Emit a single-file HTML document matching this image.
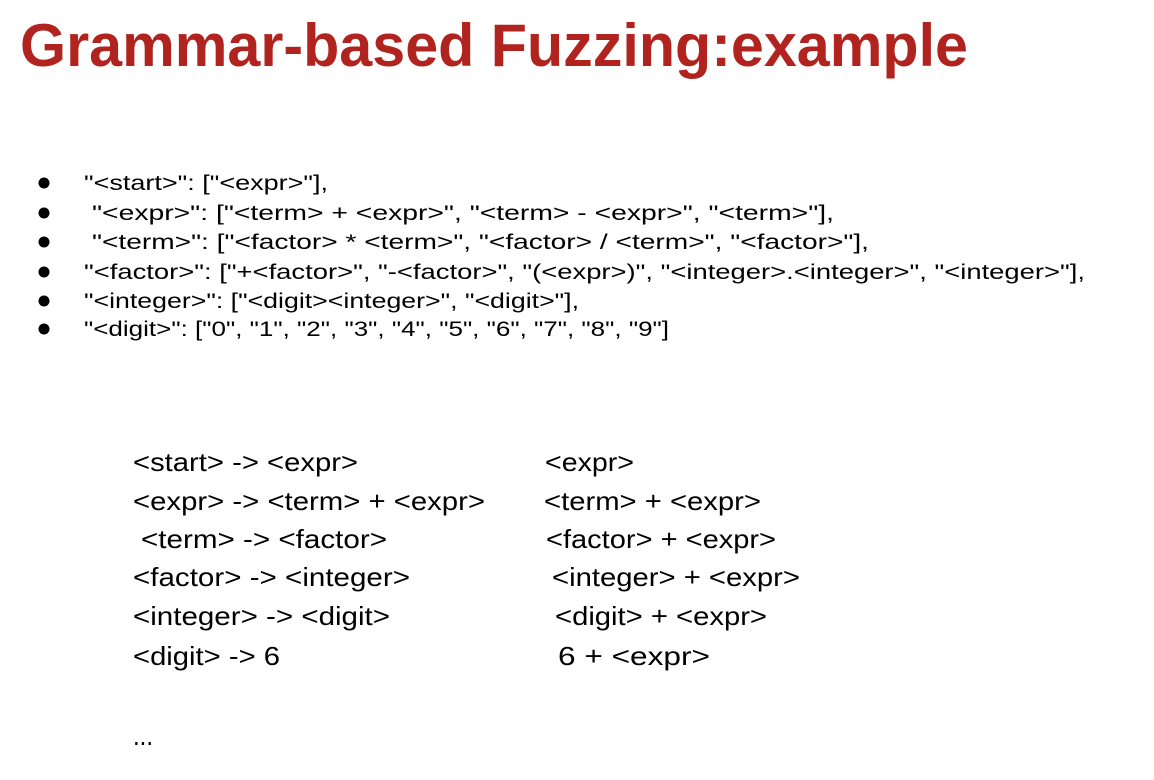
<!DOCTYPE html>
<html><head><meta charset="utf-8"><style>
html,body{margin:0;padding:0;background:#fff;}
svg{display:block;}
</style></head><body>
<svg width="1154" height="780" xmlns="http://www.w3.org/2000/svg">
<text x="20" y="66" font-family="Liberation Sans, sans-serif" font-weight="bold" font-size="60" fill="#b0231f" textLength="948" lengthAdjust="spacingAndGlyphs">Grammar-based Fuzzing:example</text>
<g font-family="Liberation Sans, sans-serif" font-size="21" fill="#000">
<circle cx="44" cy="183" r="5.5"/><circle cx="44" cy="213" r="5.5"/><circle cx="44" cy="242" r="5.5"/>
<circle cx="44" cy="272" r="5.5"/><circle cx="44" cy="301" r="5.5"/><circle cx="44" cy="329" r="5.5"/>
<text x="84" y="190" textLength="244" lengthAdjust="spacingAndGlyphs">"&lt;start&gt;": ["&lt;expr&gt;"],</text>
<text x="92" y="220" textLength="742" lengthAdjust="spacingAndGlyphs">"&lt;expr&gt;": ["&lt;term&gt; + &lt;expr&gt;", "&lt;term&gt; - &lt;expr&gt;", "&lt;term&gt;"],</text>
<text x="92" y="249" textLength="777" lengthAdjust="spacingAndGlyphs">"&lt;term&gt;": ["&lt;factor&gt; * &lt;term&gt;", "&lt;factor&gt; / &lt;term&gt;", "&lt;factor&gt;"],</text>
<text x="84" y="279" textLength="1001" lengthAdjust="spacingAndGlyphs">"&lt;factor&gt;": ["+&lt;factor&gt;", "-&lt;factor&gt;", "(&lt;expr&gt;)", "&lt;integer&gt;.&lt;integer&gt;", "&lt;integer&gt;"],</text>
<text x="84" y="308" textLength="495" lengthAdjust="spacingAndGlyphs">"&lt;integer&gt;": ["&lt;digit&gt;&lt;integer&gt;", "&lt;digit&gt;"],</text>
<text x="84" y="336" textLength="585" lengthAdjust="spacingAndGlyphs">"&lt;digit&gt;": ["0", "1", "2", "3", "4", "5", "6", "7", "8", "9"]</text>
</g>
<g font-family="Liberation Sans, sans-serif" font-size="26" fill="#000">
<text x="133" y="471" textLength="225" lengthAdjust="spacingAndGlyphs">&lt;start&gt; -&gt; &lt;expr&gt;</text>
<text x="133" y="510" textLength="352" lengthAdjust="spacingAndGlyphs">&lt;expr&gt; -&gt; &lt;term&gt; + &lt;expr&gt;</text>
<text x="141" y="548" textLength="246" lengthAdjust="spacingAndGlyphs">&lt;term&gt; -&gt; &lt;factor&gt;</text>
<text x="133" y="586" textLength="277" lengthAdjust="spacingAndGlyphs">&lt;factor&gt; -&gt; &lt;integer&gt;</text>
<text x="133" y="625" textLength="257" lengthAdjust="spacingAndGlyphs">&lt;integer&gt; -&gt; &lt;digit&gt;</text>
<text x="133" y="665" textLength="147" lengthAdjust="spacingAndGlyphs">&lt;digit&gt; -&gt; 6</text>
<text x="545" y="471" textLength="89" lengthAdjust="spacingAndGlyphs">&lt;expr&gt;</text>
<text x="544" y="510" textLength="217" lengthAdjust="spacingAndGlyphs">&lt;term&gt; + &lt;expr&gt;</text>
<text x="546" y="548" textLength="230" lengthAdjust="spacingAndGlyphs">&lt;factor&gt; + &lt;expr&gt;</text>
<text x="552" y="586" textLength="248" lengthAdjust="spacingAndGlyphs">&lt;integer&gt; + &lt;expr&gt;</text>
<text x="555" y="625" textLength="212" lengthAdjust="spacingAndGlyphs">&lt;digit&gt; + &lt;expr&gt;</text>
<text x="558" y="665" textLength="152" lengthAdjust="spacingAndGlyphs">6 + &lt;expr&gt;</text>
<text x="133" y="745" font-size="28" textLength="20" lengthAdjust="spacingAndGlyphs">...</text>
</g>
</svg>
</body></html>
